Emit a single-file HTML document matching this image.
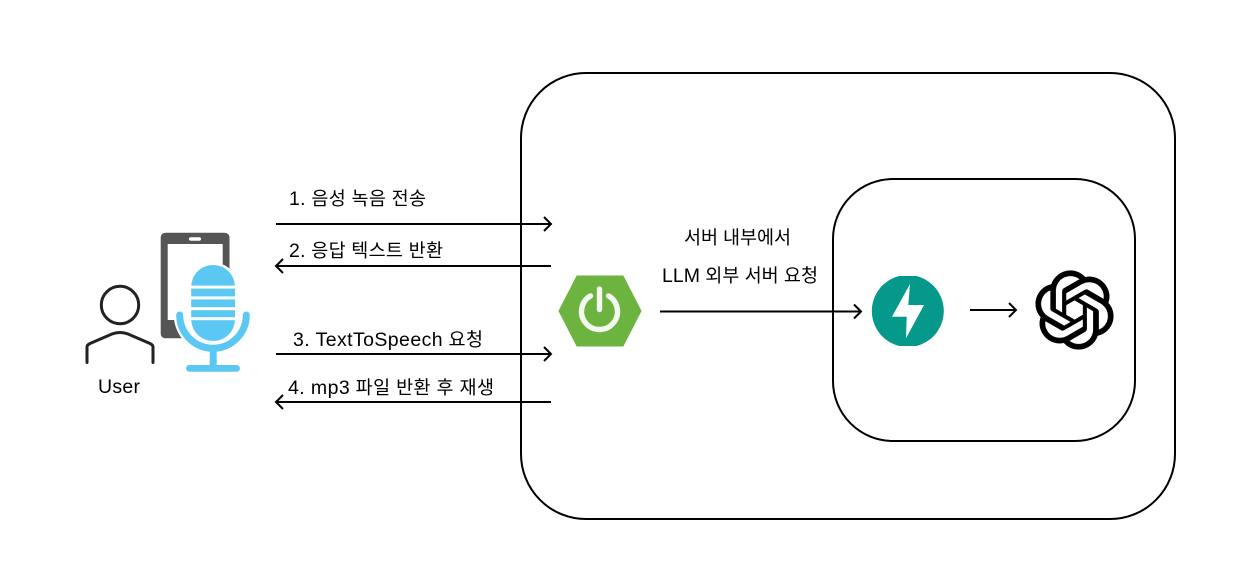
<!DOCTYPE html>
<html lang="ko">
<head>
<meta charset="utf-8">
<style>
html,body{margin:0;padding:0;background:#fff;width:1240px;height:574px;overflow:hidden}
svg{display:block}
text{font-family:"Liberation Sans","Noto Sans CJK KR",sans-serif;font-size:18.5px;fill:#000}
tspan.l{font-size:19.5px}
</style>
</head>
<body>
<svg width="1240" height="574" viewBox="0 0 1240 574" xmlns="http://www.w3.org/2000/svg">
<rect width="1240" height="574" fill="#fff"/>
<rect x="521" y="73" width="654" height="446" rx="65" fill="none" stroke="#000" stroke-width="2"/>
<rect x="833" y="179" width="302" height="262" rx="60" fill="none" stroke="#000" stroke-width="2"/>

<!-- person -->
<circle cx="120" cy="305" r="18.7" fill="none" stroke="#222" stroke-width="3"/>
<path d="M87 362.5V347Q87 345 90 343.5L112 334Q120 331 128 334L150 343.5Q153 345 153 347V362.5" fill="none" stroke="#222" stroke-width="3" stroke-linecap="round"/>

<!-- phone -->
<path fill-rule="evenodd" fill="#555" d="M166 232.7H224Q229.5 232.7 229.5 238V333Q229.5 338.3 224 338.3H166Q160.7 338.3 160.7 333V238Q160.7 232.7 166 232.7ZM167.7 244V320H222.7V244Z"/>
<rect x="189" y="237.3" width="12" height="3.4" rx="1.7" fill="#fff"/>

<!-- mic -->
<path d="M179.7 314.5A33.2 33.2 0 0 0 246.3 314.5Z" fill="#fff" stroke="#fff" stroke-width="12" stroke-linejoin="round"/>
<rect x="188.5" y="262.5" width="49" height="82" rx="24" fill="#fff"/>
<path d="M179.7 315A33.2 33.2 0 0 0 246.3 315" fill="none" stroke="#5AC8F2" stroke-width="7" stroke-linecap="round"/>
<rect x="191.2" y="265" width="43.8" height="76" rx="21.9" fill="#5AC8F2"/>
<rect x="190" y="285.6" width="47" height="3" fill="#fff"/>
<rect x="190" y="296.4" width="47" height="3" fill="#fff"/>
<rect x="190" y="307.2" width="47" height="3" fill="#fff"/>
<rect x="190" y="317.2" width="47" height="3" fill="#fff"/>
<rect x="209.7" y="350" width="7" height="17" fill="#5AC8F2"/>
<rect x="186" y="365" width="54" height="6.8" rx="3.4" fill="#5AC8F2"/>

<text x="98" y="393" textLength="42" lengthAdjust="spacing"><tspan class="l">User</tspan></text>

<!-- left labels -->
<text x="289" y="205" textLength="137" lengthAdjust="spacing"><tspan class="l">1.</tspan> 음성 녹음 전송</text>
<text x="289" y="257" textLength="154" lengthAdjust="spacing"><tspan class="l">2.</tspan> 응답 텍스트 반환</text>
<text x="293" y="346" textLength="190" lengthAdjust="spacing"><tspan class="l">3. TextToSpeech</tspan> 요청</text>
<text x="288" y="394" textLength="206" lengthAdjust="spacing"><tspan class="l">4. mp3</tspan> 파일 반환 후 재생</text>

<!-- arrows -->
<g fill="none" stroke="#000" stroke-width="2">
<path d="M276 224H551M544 217L551 224L544 231"/>
<path d="M551 266H276M283 259L276 266L283 273"/>
<path d="M276 354H551M544 347L551 354L544 361"/>
<path d="M551 402H276M283 395L276 402L283 409"/>
<path d="M660 311.5H861M854 304.5L861 311.5L854 318.5"/>
<path d="M970 310H1016M1009 303L1016 310L1009 317"/>
</g>

<!-- spring -->
<polygon points="559,311 577,276 623,276 641,311 623,346 577,346" fill="#6DB33F" stroke="#6DB33F" stroke-width="1" stroke-linejoin="round"/>
<path d="M590.5 295.9A18 18 0 1 0 608.5 295.9" fill="none" stroke="#F4F9F0" stroke-width="5.4" stroke-linecap="round"/>
<path d="M599.5 289V309.5" fill="none" stroke="#F4F9F0" stroke-width="5.4" stroke-linecap="round"/>

<text x="684" y="244" textLength="107" lengthAdjust="spacing">서버 내부에서</text>
<text x="662" y="282" textLength="156" lengthAdjust="spacing"><tspan class="l">LLM</tspan> 외부 서버 요청</text>

<!-- fastapi -->
<clipPath id="c"><rect x="860" y="276" width="100" height="70"/></clipPath>
<circle cx="907.8" cy="311" r="36" fill="#05998B" clip-path="url(#c)"/>
<polygon points="910,284 892,316.7 906.7,316.7 906,338.3 924,305 908.3,305" fill="#fff"/>

<!-- openai -->
<g transform="translate(1074.5 310) scale(3.28) translate(-12 -12)">
<path fill="#000" stroke="#000" stroke-width="0.15" d="M22.2819 9.8211a5.9847 5.9847 0 0 0-.5157-4.9108 6.0462 6.0462 0 0 0-6.5098-2.9A6.0651 6.0651 0 0 0 4.9807 4.1818a5.9847 5.9847 0 0 0-3.9977 2.9 6.0462 6.0462 0 0 0 .7427 7.0966 5.98 5.98 0 0 0 .511 4.9107 6.051 6.051 0 0 0 6.5146 2.9001A5.9847 5.9847 0 0 0 13.2599 24a6.0557 6.0557 0 0 0 5.7718-4.2058 5.9894 5.9894 0 0 0 3.9977-2.9001 6.0557 6.0557 0 0 0-.7475-7.0729zm-9.022 12.6081a4.4755 4.4755 0 0 1-2.8764-1.0408l.1419-.0804 4.7783-2.7582a.7948.7948 0 0 0 .3927-.6813v-6.7369l2.02 1.1686a.071.071 0 0 1 .038.052v5.5826a4.504 4.504 0 0 1-4.4945 4.4944zm-9.6607-4.1254a4.4708 4.4708 0 0 1-.5346-3.0137l.142.0852 4.783 2.7582a.7712.7712 0 0 0 .7806 0l5.8428-3.3685v2.3324a.0804.0804 0 0 1-.0332.0615L9.74 19.9502a4.4992 4.4992 0 0 1-6.1408-1.6464zM2.3408 7.8956a4.485 4.485 0 0 1 2.3655-1.9728V11.6a.7664.7664 0 0 0 .3879.6765l5.8144 3.3543-2.0201 1.1685a.0757.0757 0 0 1-.071 0l-4.8303-2.7865A4.504 4.504 0 0 1 2.3408 7.872zm16.5963 3.8558L13.1038 8.364 15.1192 7.2a.0757.0757 0 0 1 .071 0l4.8303 2.7913a4.4944 4.4944 0 0 1-.6765 8.1042v-5.6772a.79.79 0 0 0-.407-.667zm2.0107-3.0231l-.142-.0852-4.7735-2.7818a.7759.7759 0 0 0-.7854 0L9.409 9.2297V6.8974a.0662.0662 0 0 1 .0284-.0615l4.8303-2.7866a4.4992 4.4992 0 0 1 6.6802 4.66zM8.3065 12.863l-2.02-1.1638a.0804.0804 0 0 1-.038-.0567V6.0742a4.4992 4.4992 0 0 1 7.3757-3.4537l-.142.0805L8.704 5.459a.7948.7948 0 0 0-.3927.6813zm1.0976-2.3654l2.602-1.4998 2.6069 1.4998v2.9994l-2.5974 1.4997-2.6067-1.4997Z"/>
</g>
</svg>
</body>
</html>
